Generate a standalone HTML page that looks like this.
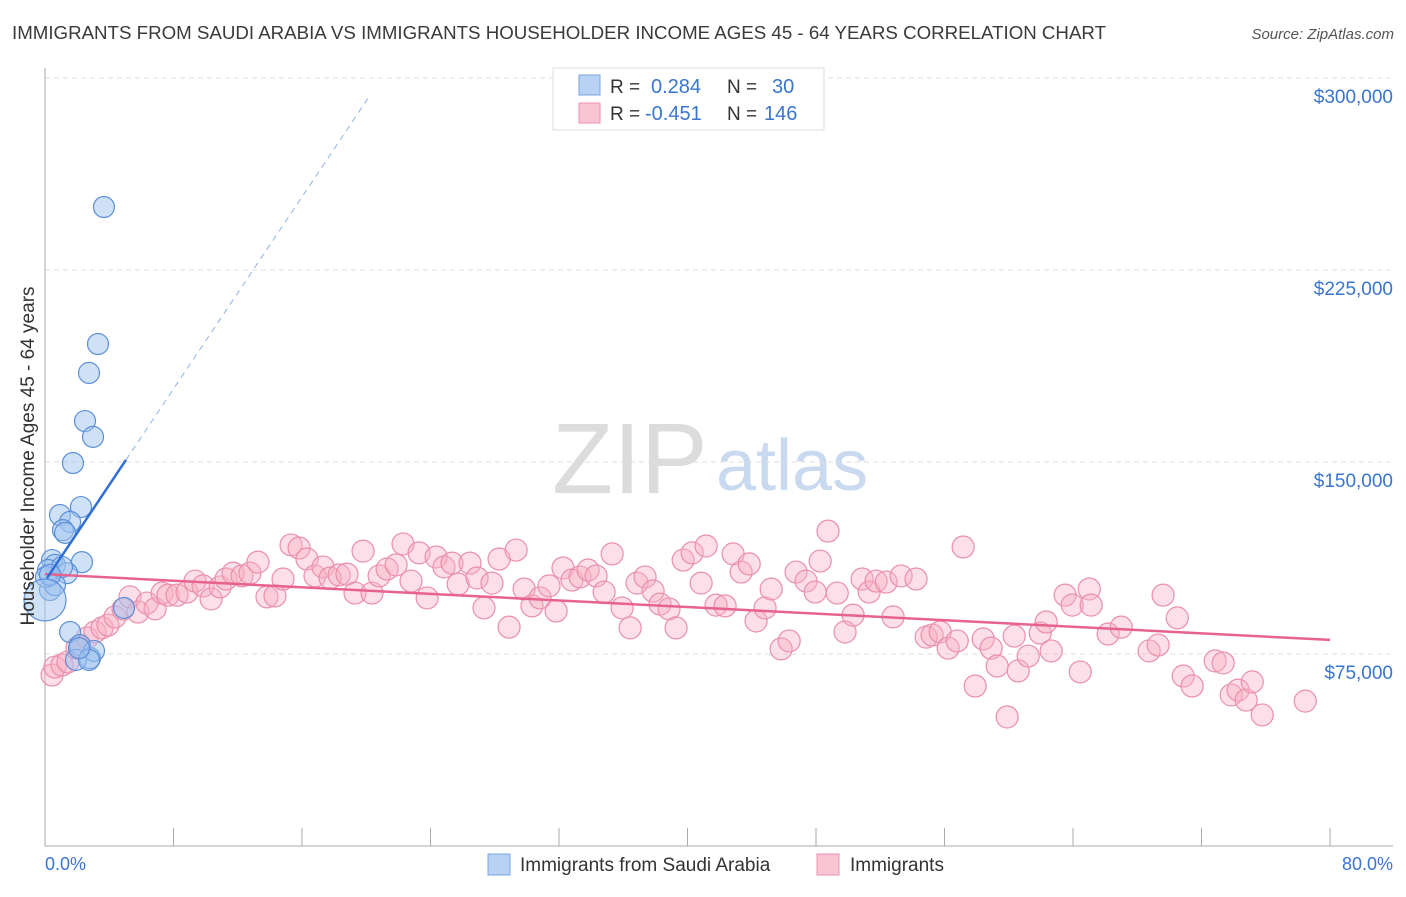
<!DOCTYPE html>
<html><head><meta charset="utf-8"><style>
body{margin:0;background:#fff;font-family:"Liberation Sans",sans-serif}
svg text{font-family:"Liberation Sans",sans-serif}
</style></head><body>
<svg id="chart" width="1406" height="892" xmlns="http://www.w3.org/2000/svg">
<text x="12" y="39" font-size="18.5" fill="#3a3a3a" textLength="1094" lengthAdjust="spacingAndGlyphs">IMMIGRANTS FROM SAUDI ARABIA VS IMMIGRANTS HOUSEHOLDER INCOME AGES 45 - 64 YEARS CORRELATION CHART</text>
<text x="1394" y="39" font-size="15" fill="#555" font-style="italic" text-anchor="end">Source: ZipAtlas.com</text>
<g>
<text x="552" y="493" font-size="100" fill="#dcdcdc" font-family="Liberation Serif, serif">ZIP</text>
<text x="716" y="490" font-size="72" fill="#c9daf0">atlas</text>
</g>
<g id="grid"></g>
<g id="axes"></g>
<g id="marks"></g>
<text transform="translate(34,456) rotate(-90)" font-size="19" fill="#333" text-anchor="middle">Householder Income Ages 45 - 64 years</text>
<text x="45" y="870" font-size="18" fill="#3a75d0">0.0%</text>
<text x="1393" y="870" font-size="18" fill="#3a75d0" text-anchor="end">80.0%</text>
<g>
<rect x="553" y="68" width="271" height="62" fill="#fff" stroke="#ddd"/>
<rect x="579" y="75" width="21" height="20" fill="#b9d2f4" stroke="#7aa5e0"/>
<rect x="579" y="103" width="21" height="20" fill="#f9c4d3" stroke="#eb92ad"/>
<text x="610" y="93" font-size="19" fill="#333">R =</text>
<text x="651" y="93" font-size="20" fill="#3a75d0">0.284</text>
<text x="727" y="93" font-size="19" fill="#333">N =</text>
<text x="772" y="93" font-size="20" fill="#3a75d0">30</text>
<text x="610" y="120" font-size="19" fill="#333">R =</text>
<text x="645" y="120" font-size="20" fill="#3a75d0">-0.451</text>
<text x="727" y="120" font-size="19" fill="#333">N =</text>
<text x="764" y="120" font-size="20" fill="#3a75d0">146</text>
</g>
<g>
<rect x="488" y="854" width="22" height="21" fill="#b9d2f4" stroke="#7aa5e0"/>
<text x="520" y="871" font-size="19" fill="#333">Immigrants from Saudi Arabia</text>
<rect x="817" y="854" width="22" height="21" fill="#f9c4d3" stroke="#eb92ad"/>
<text x="850" y="871" font-size="19" fill="#333">Immigrants</text>
</g>
</svg>
<script>
const yTicks=[75000,150000,225000,300000];
const yTickLabels=["$75,000","$150,000","$225,000","$300,000"];
const xTicks=[0,8,16,24,32,40,48,56,64,72,80];
const blueX=[3.67,3.30,2.74,2.49,2.99,1.74,2.24,0.93,1.56,1.12,1.25,2.30,0.44,0.62,0.19,1.37,0.31,0.62,4.92,1.56,2.18,2.80,3.05,1.93,2.74,2.12,0.06,1.06,0.31,0];
const blueY=[249.6,196.1,184.8,166.0,159.8,149.6,132.4,129.3,126.6,123.4,122.3,110.9,111.7,109.8,107.8,106.6,100.0,101.9,93.0,83.6,78.5,73.4,76.2,72.7,72.7,77.3,105.1,109.0,105.9,96.1];
const pinkX=[0.44,0.62,1.06,1.43,1.99,2.18,2.62,3.11,3.55,3.92,4.36,4.86,5.29,5.79,6.35,6.85,7.29,7.66,8.22,8.84,9.34,9.84,10.34,10.90,11.27,11.71,12.27,12.76,13.26,13.82,14.32,14.82,15.32,15.82,16.31,16.81,17.31,17.75,18.31,18.80,19.30,19.80,20.36,20.80,21.30,21.86,22.29,22.79,23.29,23.79,24.35,24.84,25.34,25.72,
26.46,26.90,27.33,27.83,28.27,28.89,29.33,29.83,30.32,30.82,31.38,31.82,32.25,32.81,33.31,33.81,34.31,34.81,35.31,35.93,36.43,36.86,37.36,37.86,38.29,38.85,39.29,39.73,40.29,41.16,40.85,41.78,42.34,42.84,43.34,43.84,44.27,44.83,45.21,45.83,46.33,46.76,47.38,47.95,48.26,48.75,49.32,49.81,50.31,50.87,51.31,51.74,52.37,52.80,53.30,
54.23,54.86,55.23,55.73,56.23,56.79,57.16,57.91,58.41,58.90,59.28,59.90,60.34,60.59,61.21,61.96,62.33,62.64,63.51,63.95,64.45,65.01,65.13,66.19,67.00,68.74,69.30,69.61,70.49,70.86,71.42,72.85,73.35,73.85,74.28,74.78,75.16,75.78,78.46];
const pinkY=[66.8,69.9,70.7,71.9,77.3,77.7,81.3,83.6,85.2,86.3,89.5,92.6,97.3,91.4,94.9,92.6,98.8,98.0,98.0,99.2,103.5,101.6,96.5,101.2,104.3,106.6,105.5,106.6,110.9,97.3,97.7,104.3,117.6,116.4,112.1,105.5,109.0,104.7,105.9,106.2,98.8,115.2,98.8,105.5,108.2,109.8,118.0,103.5,114.5,96.9,112.9,109.0,110.5,102.3,
110.5,104.7,93.0,102.7,112.1,85.5,115.6,100.4,93.8,96.9,101.6,91.8,108.6,103.9,105.1,107.8,105.5,99.2,114.1,93.0,85.2,102.7,105.1,99.6,94.5,92.6,85.2,111.7,114.5,117.2,102.7,94.1,93.8,114.1,107.0,110.2,87.9,93.0,100.4,77.0,80.1,107.0,103.5,99.2,111.3,123.0,98.8,83.6,90.2,104.3,99.2,103.5,103.1,89.5,105.5,
104.3,81.6,82.4,83.6,77.3,80.1,116.8,62.5,80.9,77.3,70.3,50.4,82.0,68.4,74.2,83.2,87.5,76.2,98.0,94.1,68.0,100.4,94.1,82.8,85.5,76.2,78.5,98.0,89.1,66.4,62.5,72.3,71.5,59.0,60.9,57.0,64.1,51.2,56.6];
const blueTrend=[0,103.5,5.04,150.8,20.1,292];
const pinkTrend=[0,106.2,80,80.5];
const NS='http://www.w3.org/2000/svg';
const X=p=>45+p*(1330-45)/80;
const Y=v=>846-v*(846-78)/300000;
const Yk=k=>Y(k*1000);
function mk(tag,attrs,parent){const e=document.createElementNS(NS,tag);for(const k in attrs)e.setAttribute(k,attrs[k]);parent.appendChild(e);return e;}
const grid=document.getElementById('grid'),axes=document.getElementById('axes'),marks=document.getElementById('marks');
yTicks.forEach((t,i)=>{
 const l=mk('line',{x1:45,x2:1393,y1:Y(t),y2:Y(t),stroke:'#ddd','stroke-dasharray':'5,4'},grid);
 
 
 const tx=mk('text',{x:1393,y:Y(t)+25,'font-size':19,fill:'#3a75d0','text-anchor':'end'},axes);
 tx.textContent=yTickLabels[i];
 
 
});
let a=mk('line',{x1:45,x2:45,y1:68,y2:846,stroke:'#aaa'},axes);


a=mk('line',{x1:45,x2:1393,y1:846,y2:846,stroke:'#aaa'},axes);


xTicks.forEach(t=>{
 const l=mk('line',{x1:X(t),x2:X(t),y1:828,y2:846,stroke:'#aaa'},axes);
 
 
});
pinkX.forEach((p,i)=>{
 const c=mk('circle',{cx:X(p),cy:Yk(pinkY[i]),r:11,fill:'rgba(248,175,198,0.4)',stroke:'#ea8fac','stroke-width':1.2},marks);
 
 
});
blueX.forEach((p,i)=>{
 const big=i===blueX.length-1;
 const c=mk('circle',{cx:X(p),cy:Yk(blueY[i]),r:big?21:10.5,fill:'rgba(160,195,240,0.5)',stroke:'#5b8fd8','stroke-width':1.2},marks);
 
 
});
let t=mk('line',{x1:X(pinkTrend[0]),y1:Yk(pinkTrend[1]),x2:X(pinkTrend[2]),y2:Yk(pinkTrend[3]),stroke:'#e8628e','stroke-width':2.5},marks);


t=mk('line',{x1:X(blueTrend[0]+0.12),y1:Yk(blueTrend[1]+0.12*9.38),x2:X(blueTrend[2]),y2:Yk(blueTrend[3]),stroke:'#2f6fd6','stroke-width':2.5},marks);


t=mk('line',{x1:X(blueTrend[2]),y1:Yk(blueTrend[3]),x2:X(blueTrend[4]),y2:Yk(blueTrend[5]),stroke:'#8fb2e6','stroke-width':1,'stroke-dasharray':'6,5'},marks);


</script>
</body></html>
